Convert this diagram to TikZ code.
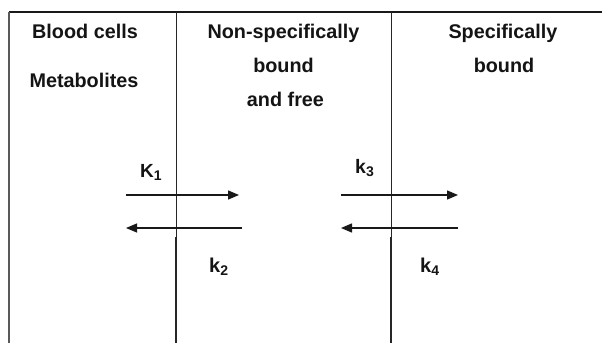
\documentclass[tikz,border=0pt]{standalone}
\usepackage{fontspec}
\setmainfont{Liberation Sans}
\usetikzlibrary{arrows.meta}

% rate constant with a lowered subscript
\newcommand{\rateconst}[3]{{\fontsize{#3}{#3}\selectfont\bfseries #1\raisebox{-3pt}{\fontsize{14}{14}\selectfont #2}}}

\begin{document}
\begin{tikzpicture}[x=1pt,y=-1pt,
  head/.style={font=\fontsize{19.8}{20}\selectfont\bfseries, anchor=base, inner sep=0pt, text=black!92},
  rate/.style={anchor=base west, inner sep=0pt, text=black!92},
  flux/.style={line width=1.4pt, black!90, -{Triangle[length=11pt,width=9pt]}},
  thinwall/.style={line width=0.7pt, black!85},
  thickwall/.style={line width=1.5pt, black!85},
  frame/.style={line width=1.8pt, black!90},
  border/.style={line width=1.4pt, black!65}
]
\useasboundingbox (0,0) rectangle (602,343);

% outer frame: top edge and left edge
\coordinate (tl) at (9,12);
\coordinate (tr) at (602,12);
\coordinate (bl) at (9,343);
\draw[frame] (tl) -- (tr);
\draw[border] (tl) -- (bl);

% compartment walls: thin above the lower arrows, thick below
\coordinate (w1top) at (176,12);
\coordinate (w1mid) at (176,237);
\coordinate (w1bot) at (176,343);
\coordinate (w2top) at (391,12);
\coordinate (w2mid) at (391,237);
\coordinate (w2bot) at (391,343);
\draw[thinwall] (w1top) -- (w1mid);
\draw[thickwall] (w1mid) -- (w1bot);
\draw[thinwall] (w2top) -- (w2mid);
\draw[thickwall] (w2mid) -- (w2bot);

% compartment headings
\node[head] (blood) at (85,38.5) {Blood cells};
\node[head] (metab) at (84,87) {Metabolites};
\node[head] (nonspec) at (283.5,38.5) {Non-specifically};
\node[head] (nsbound) at (283.5,72.7) {bound};
\node[head] (nsfree) at (285.5,106.7) {and free};
\node[head] (spec) at (503,38.5) {Specifically};
\node[head] (sbound) at (504,72.7) {bound};

% exchange arrows between compartments
\coordinate (a1s) at (126,195);
\coordinate (a1e) at (239,195);
\coordinate (a2s) at (242,228);
\coordinate (a2m) at (162,228);
\coordinate (a2e) at (126,228);
\coordinate (a3s) at (341,195);
\coordinate (a3e) at (458,195);
\coordinate (a4s) at (458,228);
\coordinate (a4e) at (341,228);
\draw[flux] (a1s) -- (a1e);
\draw[flux, line width=1.1pt] (a2m) -- (a2e);
\draw[line width=1.6pt, black!90] (a2s) -- (a2m);
\draw[flux] (a3s) -- (a3e);
\draw[flux] (a4s) -- (a4e);

% rate constants
\node[rate] (K1) at (140,177) {\rateconst{K}{1}{19}};
\node[rate] (k2) at (209,272) {\rateconst{k}{2}{20}};
\node[rate] (k3) at (355,173) {\rateconst{k}{3}{19.5}};
\node[rate] (k4) at (420,272) {\rateconst{k}{4}{20}};
\end{tikzpicture}
\end{document}
